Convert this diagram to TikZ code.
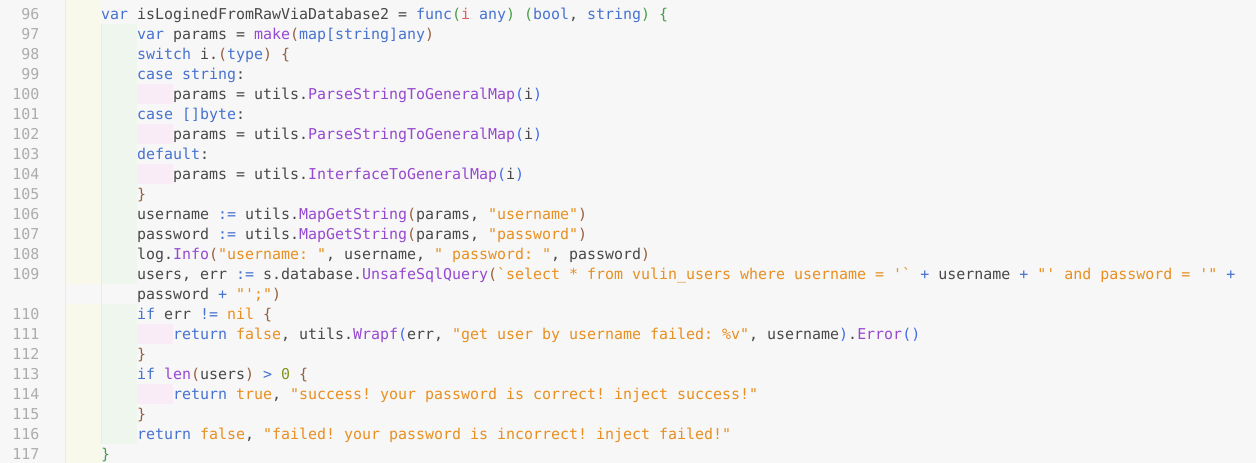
\documentclass[tikz,border=0pt]{standalone}
\usepackage{fontspec}
\setmonofont{DejaVu Sans Mono}
\usepackage{tikz}
\usetikzlibrary{positioning}
\usepackage{xcolor}
\definecolor{edbg}{RGB}{247,247,247}
\definecolor{edyellow}{RGB}{248,249,234}
\definecolor{edgreen}{RGB}{238,246,238}
\definecolor{edpink}{RGB}{249,236,247}
\definecolor{edguide}{RGB}{233,235,230}
\definecolor{ednum}{RGB}{172,172,172}
\definecolor{edtext}{RGB}{72,72,72}
\definecolor{edkw}{RGB}{70,114,208}
\definecolor{edfn}{RGB}{151,72,208}
\definecolor{edstr}{RGB}{232,143,32}
\definecolor{edbrown}{RGB}{150,96,62}
\definecolor{edbrace}{RGB}{72,158,72}
\definecolor{edblue}{RGB}{66,108,236}
\definecolor{edred}{RGB}{228,92,92}
\definecolor{ednumlit}{RGB}{128,150,28}
\newcommand{\ckw}[1]{\textcolor{edkw}{#1}}
\newcommand{\cfn}[1]{\textcolor{edfn}{#1}}
\newcommand{\cstr}[1]{\textcolor{edstr}{#1}}
\newcommand{\pone}[1]{\textcolor{edbrace}{#1}}
\newcommand{\ptwo}[1]{\textcolor{edbrown}{#1}}
\newcommand{\pthree}[1]{\textcolor{edblue}{#1}}
\newcommand{\cred}[1]{\textcolor{edred}{#1}}
\newcommand{\cnum}[1]{\textcolor{ednumlit}{#1}}
\tikzstyle{codeline} = [anchor=base west, inner sep=0pt, text=edtext, font=\ttfamily\fontsize{14.95}{20}\selectfont]
\tikzstyle{lineno} = [anchor=base east, inner sep=0pt, text=ednum, font=\ttfamily\fontsize{14.95}{20}\selectfont]
\tikzstyle{guide} = [line width=0.5pt, edguide]

\begin{document}
\begin{tikzpicture}[x=1pt, y=-1pt]
\useasboundingbox (0,0) rectangle (1256,463);
% Editor background and indent bands
\fill[edbg] (0,0) rectangle (1256,463);
\fill[edyellow] (65.7,0) rectangle (101,284);
\fill[edyellow] (65.7,304) rectangle (101,463);
\fill[edgreen] (101,24) rectangle (137,284);
\fill[edgreen] (101,304) rectangle (137,444);
\fill[edpink] (137,84) rectangle (173,104);
\fill[edpink] (137,124) rectangle (173,144);
\fill[edpink] (137,164) rectangle (173,184);
\fill[edpink] (137,324) rectangle (173,344);
\fill[edpink] (137,384) rectangle (173,404);
\draw[guide] (65.7,0) -- (65.7,463);
\draw[guide] (101,24) -- (101,444);

% Line numbers
\node[lineno] (n96) at (39.5,19.3) {96};
\node[lineno] (n97) at (39.5,39.3) {97};
\node[lineno] (n98) at (39.5,59.3) {98};
\node[lineno] (n99) at (39.5,79.3) {99};
\node[lineno] (n100) at (39.5,99.3) {100};
\node[lineno] (n101) at (39.5,119.3) {101};
\node[lineno] (n102) at (39.5,139.3) {102};
\node[lineno] (n103) at (39.5,159.3) {103};
\node[lineno] (n104) at (39.5,179.3) {104};
\node[lineno] (n105) at (39.5,199.3) {105};
\node[lineno] (n106) at (39.5,219.3) {106};
\node[lineno] (n107) at (39.5,239.3) {107};
\node[lineno] (n108) at (39.5,259.3) {108};
\node[lineno] (n109) at (39.5,279.3) {109};
\node[lineno] (n110) at (39.5,319.3) {110};
\node[lineno] (n111) at (39.5,339.3) {111};
\node[lineno] (n112) at (39.5,359.3) {112};
\node[lineno] (n113) at (39.5,379.3) {113};
\node[lineno] (n114) at (39.5,399.3) {114};
\node[lineno] (n115) at (39.5,419.3) {115};
\node[lineno] (n116) at (39.5,439.3) {116};
\node[lineno] (n117) at (39.5,459.3) {117};

% Code
\node[codeline] (l96) at (101,19.3) {\ckw{var} isLoginedFromRawViaDatabase2 = \ckw{func}\pone{(}\cred{i} \ckw{any}\pone{)} \pone{(}\ckw{bool}, \ckw{string}\pone{)} \pone{\{}};
\node[codeline] (l97) at (137,39.3) {\ckw{var} params = \cfn{make}\ptwo{(}\ckw{map[string]any}\ptwo{)}};
\node[codeline] (l98) at (137,59.3) {\ckw{switch} i.\ptwo{(}\ckw{type}\ptwo{)} \ptwo{\{}};
\node[codeline] (l99) at (137,79.3) {\ckw{case} \ckw{string}:};
\node[codeline] (l100) at (173,99.3) {params = utils.\cfn{ParseStringToGeneralMap}\pthree{(}i\pthree{)}};
\node[codeline] (l101) at (137,119.3) {\ckw{case} \ckw{[]byte}:};
\node[codeline] (l102) at (173,139.3) {params = utils.\cfn{ParseStringToGeneralMap}\pthree{(}i\pthree{)}};
\node[codeline] (l103) at (137,159.3) {\ckw{default}:};
\node[codeline] (l104) at (173,179.3) {params = utils.\cfn{InterfaceToGeneralMap}\pthree{(}i\pthree{)}};
\node[codeline] (l105) at (137,199.3) {\ptwo{\}}};
\node[codeline] (l106) at (137,219.3) {username \ckw{:=} utils.\cfn{MapGetString}\ptwo{(}params, \cstr{"username"}\ptwo{)}};
\node[codeline] (l107) at (137,239.3) {password \ckw{:=} utils.\cfn{MapGetString}\ptwo{(}params, \cstr{"password"}\ptwo{)}};
\node[codeline] (l108) at (137,259.3) {log.\cfn{Info}\ptwo{(}\cstr{"username: "}, username, \cstr{" password: "}, password\ptwo{)}};
\node[codeline] (l109) at (137,279.3) {users, err \ckw{:=} s.database.\cfn{UnsafeSqlQuery}\ptwo{(}\cstr{`select * from vulin\_users where username = '`} \ckw{+} username \ckw{+} \cstr{"' and password = '"} \ckw{+}};
\node[codeline] (l109b) at (137,299.3) {password \ckw{+} \cstr{"';"}\ptwo{)}};
\node[codeline] (l110) at (137,319.3) {\ckw{if} err \ckw{!=} \cstr{nil} \ptwo{\{}};
\node[codeline] (l111) at (173,339.3) {\ckw{return} \cstr{false}, utils.\cfn{Wrapf}\pthree{(}err, \cstr{"get user by username failed: \%v"}, username\pthree{)}.\cfn{Error}\pthree{()}};
\node[codeline] (l112) at (137,359.3) {\ptwo{\}}};
\node[codeline] (l113) at (137,379.3) {\ckw{if} \cfn{len}\ptwo{(}users\ptwo{)} \ckw{>} \cnum{0} \ptwo{\{}};
\node[codeline] (l114) at (173,399.3) {\ckw{return} \cstr{true}, \cstr{"success! your password is correct! inject success!"}};
\node[codeline] (l115) at (137,419.3) {\ptwo{\}}};
\node[codeline] (l116) at (137,439.3) {\ckw{return} \cstr{false}, \cstr{"failed! your password is incorrect! inject failed!"}};
\node[codeline] (l117) at (101,459.3) {\pone{\}}};
\end{tikzpicture}
\end{document}
